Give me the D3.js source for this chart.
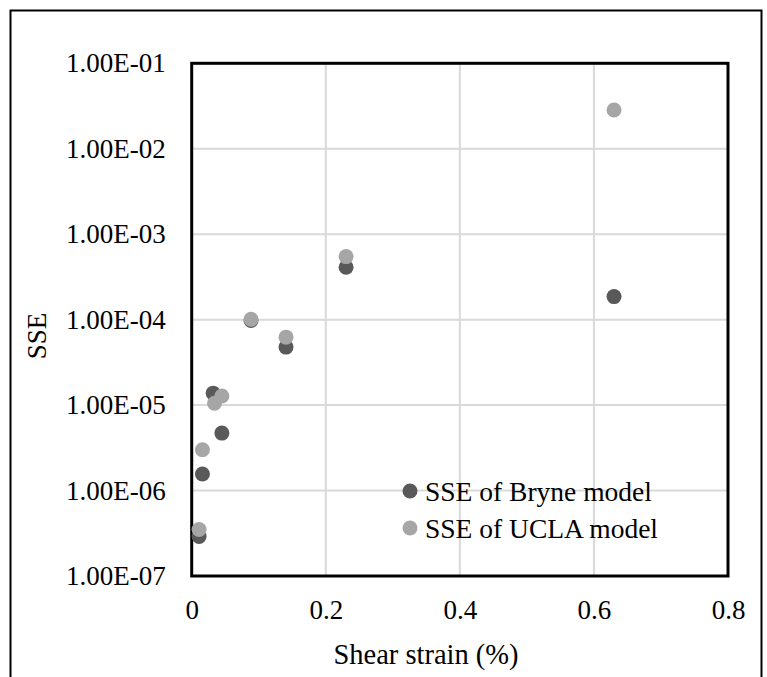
<!DOCTYPE html>
<html>
<head>
<meta charset="utf-8">
<script src="https://cdn.jsdelivr.net/npm/d3@7"></script>
<style>
  html, body { margin: 0; padding: 0; background: #fff; }
  svg { display: block; }
  text { font-family: "Liberation Serif", "Times New Roman", serif; fill: #000; }
</style>
</head>
<body>
<svg id="chart" width="767" height="677"></svg>
<script>
// ---- data ----
const seriesNames = ["SSE of Bryne model", "SSE of UCLA model"];
const bryneX = [0.011, 0.016, 0.032, 0.045, 0.0885, 0.1407, 0.2303, 0.63];
const bryneY = [2.9e-7, 1.56e-6, 1.38e-5, 4.7e-6, 9.8e-5, 4.77e-5, 4.11e-4, 1.86e-4];
const uclaX = [0.011, 0.016, 0.034, 0.045, 0.0885, 0.1407, 0.2303, 0.63];
const uclaY = [3.5e-7, 3.0e-6, 1.05e-5, 1.28e-5, 1.01e-4, 6.24e-5, 5.47e-4, 2.84e-2];
const xTicks = [0, 0.2, 0.4, 0.6, 0.8];
const yTicks = [1e-7, 1e-6, 1e-5, 1e-4, 1e-3, 1e-2, 1e-1];
const xTitle = "Shear strain (%)";
const yTitle = "SSE";

// ---- layout ----
const svg = d3.select("#chart");
const pLeft = 191.7, pRight = 728, pTop = 63.3, pBottom = 576;
const colors = ["#595959", "#a6a6a6"];
const tickFont = 27, legendFont = 27.5, xTitleFont = 28.5, yTitleFont = 27;

// outer chart border
svg.append("rect")
  .attr("x", 10.5).attr("y", 10.5)
  .attr("width", 751).attr("height", 700)
  .attr("fill", "none").attr("stroke", "#000").attr("stroke-width", 2);

const x = d3.scaleLinear().domain([0, 0.8]).range([pLeft, pRight]);
const y = d3.scaleLog().domain([1e-7, 1e-1]).range([pBottom, pTop]);

function fmtE(v) {
  const e = Math.round(Math.log10(v));
  const m = v / Math.pow(10, e);
  const sign = e < 0 ? "-" : "+";
  return m.toFixed(2) + "E" + sign + String(Math.abs(e)).padStart(2, "0");
}

// gridlines
const grid = svg.append("g");
grid.selectAll("line.gx").data(xTicks.slice(1, -1)).join("line")
  .attr("x1", d => x(d)).attr("x2", d => x(d))
  .attr("y1", pTop).attr("y2", pBottom)
  .attr("stroke", "#d9d9d9").attr("stroke-width", 2);
grid.selectAll("line.gy").data(yTicks.slice(1, -1)).join("line")
  .attr("y1", d => y(d)).attr("y2", d => y(d))
  .attr("x1", pLeft).attr("x2", pRight)
  .attr("stroke", "#d9d9d9").attr("stroke-width", 2);

// axes (labels only, frame drawn separately)
const xAxis = d3.axisBottom(x).tickValues(xTicks).tickSize(0).tickPadding(24)
  .tickFormat(d => d === 0 ? "0" : d3.format(".1f")(d));
const gx = svg.append("g").attr("transform", `translate(0,${pBottom})`).call(xAxis);
gx.select(".domain").remove();
gx.selectAll("text").attr("font-size", tickFont).attr("font-family", "Liberation Serif").attr("fill", "#000");

const yAxis = d3.axisLeft(y).tickValues(yTicks).tickSize(0).tickPadding(26).tickFormat(fmtE);
const gy = svg.append("g").attr("transform", `translate(${pLeft},0)`).call(yAxis);
gy.select(".domain").remove();
gy.selectAll("text").attr("font-size", tickFont).attr("font-family", "Liberation Serif").attr("fill", "#000");

// plot frame
svg.append("rect")
  .attr("x", pLeft).attr("y", pTop)
  .attr("width", pRight - pLeft).attr("height", pBottom - pTop)
  .attr("fill", "none").attr("stroke", "#000").attr("stroke-width", 3);

// points
const series = [
  { name: seriesNames[0], xs: bryneX, ys: bryneY, color: colors[0] },
  { name: seriesNames[1], xs: uclaX, ys: uclaY, color: colors[1] }
];
series.forEach(s => {
  svg.append("g").selectAll("circle")
    .data(s.xs.map((v, i) => [v, s.ys[i]]))
    .join("circle")
    .attr("cx", d => x(d[0])).attr("cy", d => y(d[1]))
    .attr("r", 7.5).attr("fill", s.color);
});

// legend
const leg = svg.append("g").attr("transform", "translate(410,491)");
series.forEach((s, i) => {
  const g = leg.append("g").attr("transform", `translate(0,${i * 37})`);
  g.append("circle").attr("r", 7.5).attr("fill", s.color);
  g.append("text").attr("x", 15).attr("y", 9.5)
    .attr("font-size", legendFont).text(s.name);
});

// axis titles
svg.append("text").attr("x", 426).attr("y", 664)
  .attr("text-anchor", "middle").attr("font-size", xTitleFont).text(xTitle);
svg.append("text")
  .attr("transform", "translate(46,336) rotate(-90)")
  .attr("text-anchor", "middle").attr("font-size", yTitleFont).text(yTitle);
</script>
</body>
</html>
